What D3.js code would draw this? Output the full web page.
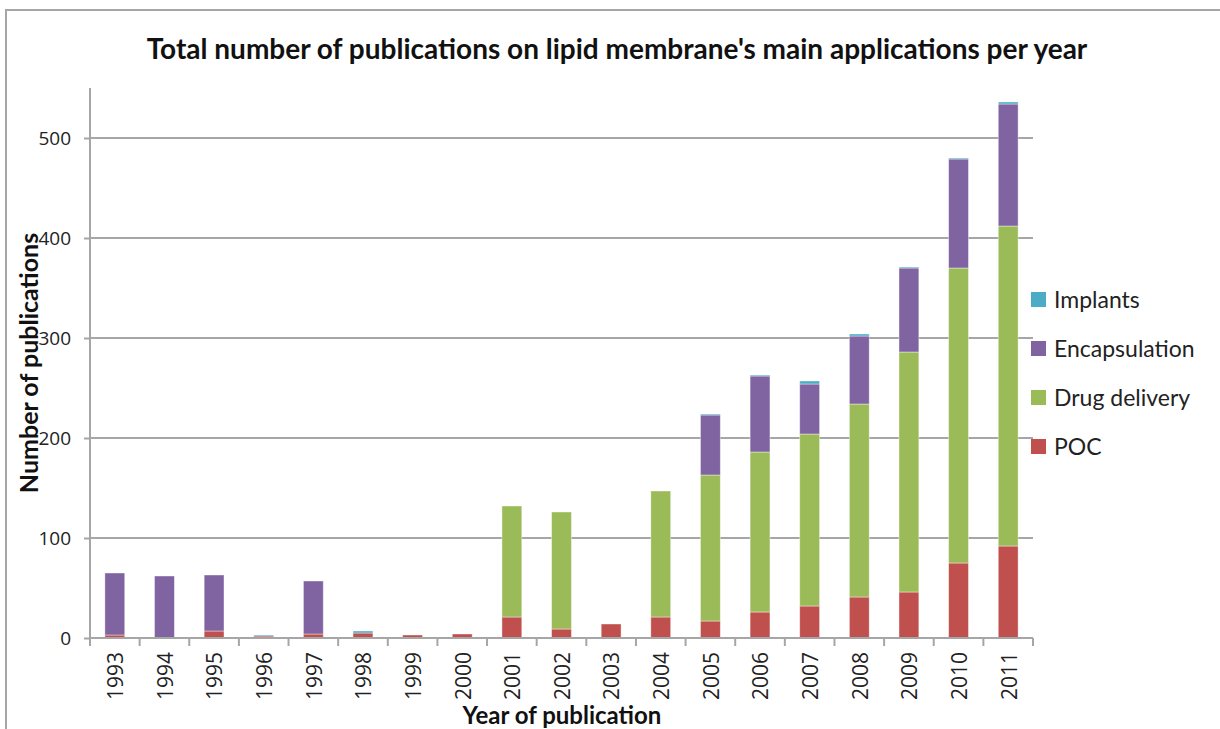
<!DOCTYPE html>
<html>
<head>
<meta charset="utf-8">
<script src="https://cdn.jsdelivr.net/npm/d3@7"></script>
<style>
  body { margin: 0; background: #fff; }
  svg { display: block; font-family: Lato, "Open Sans", sans-serif; }
</style>
</head>
<body>
<div id="main_svg"></div>
<script>
// data
var years = ["1993","1994","1995","1996","1997","1998","1999","2000","2001","2002",
             "2003","2004","2005","2006","2007","2008","2009","2010","2011"];
var poc          = [3, 0, 7, 2, 4, 5, 3, 4, 21, 9, 14, 21, 17, 26, 32, 41, 46, 75, 92];
var drugDelivery = [0, 0, 0, 0, 0, 0, 0, 0, 111, 117, 0, 126, 146, 160, 172, 193, 240, 295, 320];
var encapsulation= [62, 62, 56, 0, 53, 0, 0, 0, 0, 0, 0, 0, 60, 76, 50, 68, 84, 109, 122];
var implants     = [0, 0, 0, 1, 0, 2, 0, 0, 0, 0, 0, 0, 1, 1, 3, 2, 1, 1, 2];
var seriesNames  = ["POC", "Drug delivery", "Encapsulation", "Implants"];
var seriesColors = ["#c0504d", "#9bbb59", "#8064a2", "#4bacc6"];
var yTicks = [0, 100, 200, 300, 400, 500];

var W = 1220, H = 729;
var margin = {top: 88, right: 187, bottom: 91, left: 90},
    width = W - margin.left - margin.right,
    height = H - margin.top - margin.bottom;

var svg = d3.select("#main_svg").append("svg")
    .attr("width", W)
    .attr("height", H);

// chart frame (cut at right/bottom like the picture)
svg.append("rect")
    .attr("x", 6).attr("y", 10)
    .attr("width", W + 20).attr("height", H + 20)
    .attr("fill", "none")
    .attr("stroke", "#a6a6a6")
    .attr("stroke-width", 2);

var g = svg.append("g")
    .attr("transform", "translate(" + margin.left + "," + margin.top + ")");

var x = d3.scaleBand()
    .domain(years)
    .range([0, width])
    .paddingInner(0.6)
    .paddingOuter(0.3);
var y = d3.scaleLinear()
    .domain([0, 550])
    .range([height, 0]);

// gridlines
g.selectAll(".grid")
    .data(yTicks.slice(1))
    .enter().append("line")
    .attr("x1", 0).attr("x2", width)
    .attr("y1", function (d) { return y(d); })
    .attr("y2", function (d) { return y(d); })
    .attr("stroke", "#a6a6a6")
    .attr("stroke-width", 2);

// stack the data
var rows = years.map(function (yr, i) {
    return {year: yr, "POC": poc[i], "Drug delivery": drugDelivery[i],
            "Encapsulation": encapsulation[i], "Implants": implants[i]};
});
var stacked = d3.stack().keys(seriesNames)(rows);

g.selectAll(".series")
    .data(stacked)
    .enter().append("g")
    .attr("fill", function (d, i) { return seriesColors[i]; })
    .selectAll("rect")
    .data(function (d) { return d; })
    .enter().append("rect")
    .attr("x", function (d) { return x(d.data.year); })
    .attr("width", x.bandwidth())
    .attr("y", function (d) { return y(d[1]); })
    .attr("height", function (d) { return y(d[0]) - y(d[1]); })
    .attr("stroke", "#ffffff")
    .attr("stroke-opacity", 0.5)
    .attr("stroke-width", 0.8);

// y axis
var yAxis = g.append("g")
    .call(d3.axisLeft(y).tickValues(yTicks).tickSize(6).tickPadding(13));
yAxis.select(".domain").attr("stroke", "#a6a6a6").attr("stroke-width", 2)
    .attr("d", "M0," + y(0) + "V0");
yAxis.selectAll(".tick line").attr("stroke", "#a6a6a6").attr("stroke-width", 2);
yAxis.selectAll("text").attr("font-size", 19).attr("fill", "#222")
    .attr("font-family", "Open Sans, sans-serif");

// x axis
var xAxis = g.append("g")
    .attr("transform", "translate(0," + height + ")")
    .call(d3.axisBottom(x).tickSize(0).tickPadding(0));
xAxis.select(".domain").attr("stroke", "#a6a6a6").attr("stroke-width", 2)
    .attr("d", "M0,0H" + width);
xAxis.selectAll(".tick text")
    .attr("font-size", 21).attr("fill", "#222")
    .attr("font-family", "Open Sans, sans-serif")
    .attr("transform", "rotate(-90)")
    .attr("text-anchor", "end")
    .attr("dy", "0.35em")
    .attr("x", -14).attr("y", 1);
// tick marks on the band boundaries
xAxis.selectAll(".bound")
    .data(d3.range(years.length + 1))
    .enter().append("line")
    .attr("x1", function (i) { return i * width / years.length; })
    .attr("x2", function (i) { return i * width / years.length; })
    .attr("y1", 0).attr("y2", 8)
    .attr("stroke", "#a6a6a6").attr("stroke-width", 2);

// titles
svg.append("text")
    .attr("x", 617).attr("y", 59)
    .attr("text-anchor", "middle")
    .attr("font-size", 28).attr("font-weight", "bold").attr("fill", "#111")
    .text("Total number of publications on lipid membrane's main applications per year");

svg.append("text")
    .attr("x", 562).attr("y", 724)
    .attr("text-anchor", "middle")
    .attr("font-size", 24).attr("font-weight", "bold").attr("fill", "#111")
    .text("Year of publication");

svg.append("text")
    .attr("transform", "translate(38,363) rotate(-90)")
    .attr("text-anchor", "middle")
    .attr("font-size", 25).attr("font-weight", "bold").attr("fill", "#111")
    .text("Number of publications");

// legend, top entry is the last series
var legend = svg.append("g")
    .attr("transform", "translate(1031,292)");
var legItems = legend.selectAll(".item")
    .data(seriesNames.slice().reverse())
    .enter().append("g")
    .attr("transform", function (d, i) { return "translate(0," + i * 49 + ")"; });
legItems.append("rect")
    .attr("width", 15).attr("height", 15)
    .attr("fill", function (d) { return seriesColors[seriesNames.indexOf(d)]; });
legItems.append("text")
    .attr("x", 23).attr("y", 8)
    .attr("dy", "0.35em")
    .attr("font-size", 23).attr("fill", "#222")
    .text(function (d) { return d; });
</script>
</body>
</html>
